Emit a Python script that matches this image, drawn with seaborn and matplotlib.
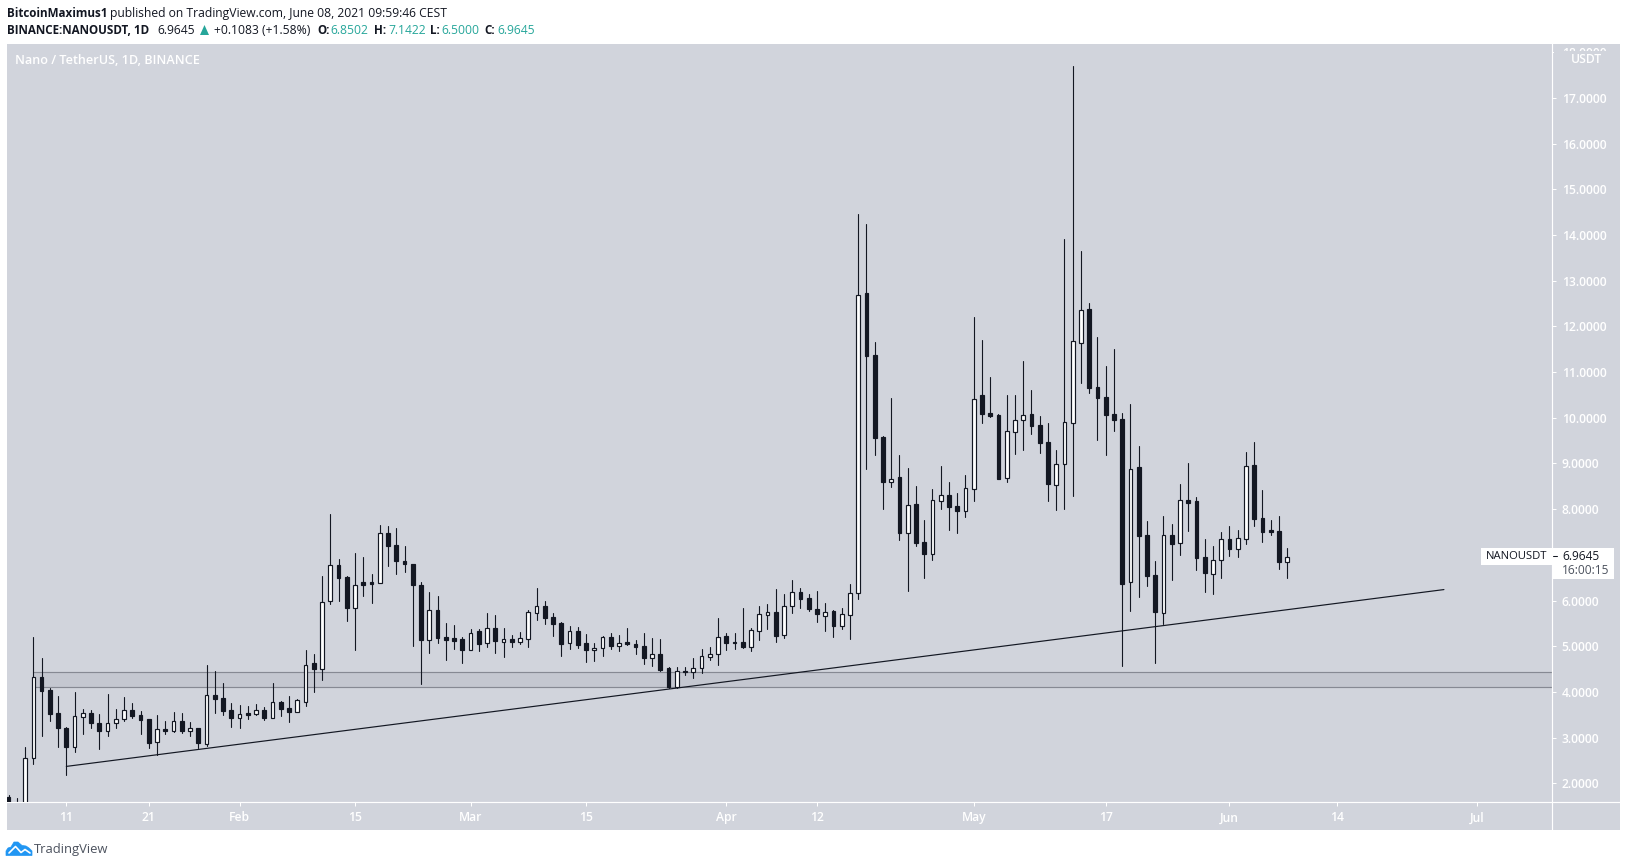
import numpy as np
import pandas as pd
import seaborn as sns
import matplotlib
matplotlib.use("Agg")
import matplotlib.pyplot as plt
import matplotlib.dates as mdates
from matplotlib.patches import Rectangle, Polygon
from matplotlib.lines import Line2D
from matplotlib.ticker import FixedLocator, FixedFormatter

# ---------- data ----------
first_day = "2021-01-04"
opens = [1.69,1.52,1.48,2.55,4.32,4.04,3.53,3.21,2.80,3.46,3.53,3.33,3.15,3.33,3.40,3.60,3.49,3.40,2.91,3.19,3.15,3.36,3.15,3.20,2.87,3.93,3.86,3.60,
 3.42,3.53,3.52,3.60,3.44,3.77,3.64,3.55,3.79,4.63,4.51,5.98,6.77,6.52,5.84,6.40,6.40,6.39,7.47,7.21,6.86,6.81,6.35,5.14,5.79,5.20,5.18,5.16,
 4.92,5.33,5.08,5.40,5.09,5.16,5.10,5.16,5.73,5.89,5.64,5.51,5.06,5.33,5.07,4.92,4.97,5.20,5.01,5.09,5.05,5.00,4.75,4.83,4.52,4.11,4.46,4.44,4.53,4.77,4.84,
 5.22,5.09,5.09,4.99,5.34,5.69,5.75,5.25,5.89,6.18,6.05,5.81,5.67,5.77,5.45,5.69,6.16,12.73,11.37,9.58,8.60,8.70,7.48,8.11,7.28,7.02,8.18,8.31,8.07,7.96,
 8.45,10.49,10.10,10.06,8.69,9.69,9.95,10.08,9.84,9.47,8.53,8.99,9.89,11.64,12.38,10.67,10.45,10.08,9.97,6.41,8.92,7.43,6.56,5.73,7.43,7.25,8.20,8.18,6.95,6.59,6.88,
 7.35,7.13,7.35,8.97,7.80,7.54,7.53,6.85]
highs = [1.74,1.67,2.80,5.21,4.74,4.08,3.91,3.23,4.00,3.63,3.60,3.52,3.95,3.63,3.89,3.76,3.58,3.41,3.50,3.36,3.55,3.54,3.34,3.20,4.59,4.46,4.20,3.75,
 3.71,3.69,3.74,3.68,4.20,3.80,3.91,3.85,4.92,4.83,6.54,7.89,6.91,6.54,7.03,6.95,6.58,7.65,7.63,7.59,7.19,6.81,6.40,6.19,6.10,5.50,5.46,5.20,
 5.37,5.37,5.72,5.68,5.40,5.24,5.31,5.79,6.27,5.99,5.73,5.53,5.44,5.42,5.27,5.07,5.22,5.29,5.24,5.40,5.13,5.29,5.18,5.16,4.54,4.54,4.54,4.74,4.94,4.98,5.62,
 5.29,5.29,5.84,5.40,5.88,5.92,6.25,6.14,6.45,6.27,6.14,6.21,5.94,5.79,5.84,6.37,14.46,14.24,11.65,9.60,10.43,9.18,8.90,8.50,7.76,8.44,8.94,8.59,8.35,8.75,
 12.20,11.70,10.89,10.08,10.49,10.49,11.24,10.60,10.04,9.88,9.29,13.91,17.69,13.65,12.51,11.77,11.13,11.50,10.10,10.31,9.39,7.74,6.86,7.84,7.67,8.55,9.01,8.26,7.34,7.19,7.50,
 7.63,7.54,9.25,9.47,8.42,7.76,7.85,7.14]
lows = [1.40,1.40,1.45,2.43,3.04,3.37,2.80,2.19,2.69,3.08,3.20,2.76,3.04,3.20,3.36,3.42,3.08,2.78,2.61,3.08,3.12,3.11,3.04,2.78,2.82,3.54,3.50,3.23,
 3.21,3.41,3.50,3.39,3.42,3.48,3.34,3.55,3.69,4.00,4.26,5.93,6.00,5.56,4.92,6.11,5.95,6.39,6.76,6.58,6.63,5.01,4.18,4.85,5.06,4.70,4.94,4.63,
 4.92,4.89,4.98,4.85,4.76,4.98,5.05,4.98,5.57,5.49,5.22,4.79,4.94,4.96,4.65,4.68,4.79,4.94,4.89,5.03,4.83,4.61,4.57,4.46,4.09,4.09,4.38,4.30,4.41,4.70,4.59,
 4.92,4.94,4.96,4.89,5.13,5.37,5.09,5.18,5.73,5.84,5.77,5.53,5.33,5.20,5.37,5.16,6.03,8.88,9.18,8.00,8.48,7.32,6.21,7.19,6.49,6.89,8.00,7.54,7.48,7.83,
 8.18,9.88,10.01,8.66,8.59,9.20,9.29,9.64,9.22,8.18,7.98,8.00,8.29,10.76,10.54,9.51,9.18,9.71,4.57,5.78,6.08,6.32,4.64,5.49,6.45,7.00,7.52,6.67,6.19,6.14,6.49,
 6.97,6.95,7.24,7.63,7.28,7.43,6.69,6.50]
closes = [1.50,1.48,2.55,4.32,4.03,3.52,3.20,2.80,3.47,3.53,3.31,3.15,3.33,3.40,3.60,3.47,3.39,2.89,3.18,3.15,3.36,3.15,3.20,2.89,3.93,3.85,3.59,3.42,
 3.51,3.50,3.60,3.43,3.77,3.63,3.57,3.82,4.60,4.51,5.96,6.77,6.50,5.84,6.35,6.34,6.37,7.47,7.20,6.87,6.81,6.35,5.14,5.79,5.19,5.14,5.11,4.92,
 5.30,5.05,5.39,5.11,5.15,5.09,5.17,5.74,5.89,5.62,5.49,5.05,5.33,5.03,4.92,4.97,5.20,5.00,5.08,5.05,4.98,4.74,4.84,4.48,4.11,4.45,4.44,4.52,4.78,4.84,5.21,
 5.07,5.07,4.98,5.35,5.70,5.74,5.22,5.89,6.18,6.03,5.81,5.70,5.74,5.44,5.70,6.16,12.68,11.36,9.55,8.59,8.67,7.48,8.10,7.26,7.02,8.19,8.32,8.05,7.96,8.47,
 10.42,10.08,10.04,8.66,9.70,9.96,10.07,9.82,9.44,8.55,8.98,9.90,11.67,12.35,10.65,10.43,10.06,9.95,6.36,8.87,7.41,6.54,5.75,7.43,7.24,8.19,8.13,6.93,6.60,6.88,7.34,
 7.13,7.36,8.94,7.78,7.50,7.50,6.84,6.96]

level_low, level_high = 4.10, 4.43
level_start = "2021-01-07"
trend_dates = ["2021-01-11", "2021-06-27"]
trend_values = [2.37, 6.24]

y_ticks = list(range(2, 19))
x_tick_dates = ["2021-01-11","2021-01-21","2021-02-01","2021-02-15","2021-03-01","2021-03-15",
                "2021-04-01","2021-04-12","2021-05-01","2021-05-17","2021-06-01","2021-06-14","2021-07-01"]
x_tick_labels = ["11","21","Feb","15","Mar","15","Apr","12","May","17","Jun","14","Jul"]
last_price = 6.9645

# ---------- colours ----------
PANEL = "#D1D4DC"; DARK = "#131722"; TEAL = "#26A69A"; GREY = "#868993"; BAND = "#C4C7D0"; BLUE = "#2196F3"

W, H = 1627, 867
sns.set_theme(style="white")
plt.rcParams["font.family"] = ["Open Sans", "DejaVu Sans"]
fig = plt.figure(figsize=(W / 100, H / 100), dpi=100, facecolor="white")

def fx(x): return x / W
def fy(y): return 1 - y / H
def put(x, y, s, **kw):
    kw.setdefault("va", "center"); kw.setdefault("ha", "left")
    return fig.text(fx(x), fy(y), s, **kw)

# panel
fig.add_artist(Rectangle((fx(7), fy(830)), (1620 - 7) / W, (830 - 44) / H, transform=fig.transFigure,
                         facecolor=PANEL, edgecolor="none", zorder=-5))
ax = fig.add_axes([fx(7), fy(802), (1552 - 7) / W, (802 - 44) / H])
ax.set_facecolor(PANEL)

n = len(opens)
assert n == len(highs) == len(lows) == len(closes) == 156
days = mdates.date2num(pd.date_range(first_day, periods=n, freq="D"))
frame = pd.DataFrame({"day": days, "open": opens, "high": highs, "low": lows, "close": closes})

# level zone and lines
lvl_x0 = mdates.date2num(pd.Timestamp(level_start))
x_min = mdates.date2num(pd.Timestamp("2021-01-11")) - 7.19
x_max = mdates.date2num(pd.Timestamp("2021-01-11")) + 180.1
ax.fill_between([lvl_x0, x_max], level_low, level_high, color=BAND, lw=0, zorder=1)
for lv in (level_low, level_high):
    sns.lineplot(x=[lvl_x0, x_max], y=[lv, lv], color=GREY, lw=0.85, ax=ax, zorder=1.5, legend=False, errorbar=None)

# wicks
wicks = frame.melt(id_vars="day", value_vars=["low", "high"], value_name="price")
sns.lineplot(data=wicks, x="day", y="price", units="day", estimator=None, color=DARK, lw=0.8,
             ax=ax, zorder=2, legend=False, sort=True)

# bodies
is_up = frame["close"] >= frame["open"]
bottoms = frame[["open", "close"]].min(axis=1)
spans = (frame["close"] - frame["open"]).abs()
ax.bar(frame["day"], spans, bottom=bottoms, width=0.44,
       color=np.where(is_up, "white", DARK), edgecolor=DARK, linewidth=0.85, zorder=3)

# trend line
sns.lineplot(x=mdates.date2num(pd.to_datetime(trend_dates)), y=trend_values, color=DARK, lw=0.85,
             ax=ax, zorder=4, legend=False, errorbar=None)

ax.set_xlim(x_min, x_max)
ax.set_ylim(1.591, 18.18)
ax.set_xlabel(""); ax.set_ylabel("")
ax.yaxis.tick_right()
ax.yaxis.set_major_locator(FixedLocator(y_ticks))
ax.yaxis.set_major_formatter(FixedFormatter([f"{v:.4f}" for v in y_ticks]))
ax.xaxis.set_major_locator(FixedLocator(mdates.date2num(pd.to_datetime(x_tick_dates))))
ax.xaxis.set_major_formatter(FixedFormatter(x_tick_labels))
ax.tick_params(axis="y", length=3, width=0.75, color="white", labelcolor="white", labelsize=8.7, pad=4.0, right=True, left=False)
ax.tick_params(axis="x", length=3, width=0.75, color="white", labelcolor="white", labelsize=8.7, pad=3.8, bottom=True)
for lab in ax.get_xticklabels() + ax.get_yticklabels():
    lab.set_fontweight(600)
for s in ("top", "left"):
    ax.spines[s].set_visible(False)
for s in ("right", "bottom"):
    ax.spines[s].set_color("white"); ax.spines[s].set_linewidth(0.85)

# axis lines running on through the panel
fig.add_artist(Line2D([fx(1552.3)] * 2, [fy(802), fy(830)], color="white", lw=0.85, transform=fig.transFigure))
fig.add_artist(Line2D([fx(1552), fx(1620)], [fy(802.3)] * 2, color="white", lw=0.85, transform=fig.transFigure))

# USDT label covering the top tick
fig.add_artist(Rectangle((fx(1553.5), fy(67)), 66 / W, 16.5 / H, transform=fig.transFigure,
                         facecolor=PANEL, edgecolor="none", zorder=3))
put(1586, 59.5, "USDT", color="white", fontsize=8.7, ha="center", zorder=4, fontweight=600)

# last price labels
y_last = fy(802) + (last_price - 1.591) / (18.18 - 1.591) * (802 - 44) / H
fig.add_artist(Rectangle((fx(1481), fy(565)), 71 / W, 17 / H, transform=fig.transFigure, facecolor="white", edgecolor="none", zorder=3))
fig.add_artist(Rectangle((fx(1553), fy(578.7)), 61 / W, 30.7 / H, transform=fig.transFigure, facecolor="white", edgecolor="none", zorder=3))
fig.add_artist(Line2D([fx(1553), fx(1557)], [y_last, y_last], color=DARK, lw=0.75, transform=fig.transFigure, zorder=4))
put(1516.5, 556.5, "NANOUSDT", color=DARK, fontsize=8.1, ha="center", zorder=4)
put(1562, 556.5, f"{last_price:.4f}", color=DARK, fontsize=8.6, zorder=4)
put(1562, 571, "16:00:15", color="#4C525E", fontsize=8.6, zorder=4)

# watermark title
put(14.5, 60, "Nano / TetherUS, 1D, BINANCE", color="white", fontsize=9.1, fontweight=600, zorder=4)

# header
HS = 8.7; HB = 8.4
put(6.5, 13.5, "BitcoinMaximus1", color=DARK, fontsize=HB, fontweight="bold")
put(110, 13.5, "published on TradingView.com, June 08, 2021 09:59:46 CEST", color=DARK, fontsize=HS)
put(6.5, 30.5, "BINANCE:NANOUSDT, 1D", color=DARK, fontsize=HB, fontweight="bold")
put(157.7, 30.5, "6.9645", color=DARK, fontsize=HS)
fig.add_artist(Polygon([(fx(200), fy(35)), (fx(209), fy(35)), (fx(204.5), fy(25))], closed=True,
                       transform=fig.transFigure, facecolor=TEAL, edgecolor="none"))
put(213.5, 30.5, "+0.1083 (+1.58%)", color=DARK, fontsize=HS)
for lx, lab, vx, val in [(317, "O:", 330, "6.8502"), (374, "H:", 388, "7.1422"),
                         (430.5, "L:", 441, "6.5000"), (484.5, "C:", 497, "6.9645")]:
    put(lx, 30.5, lab, color=DARK, fontsize=HB, fontweight="bold")
    put(vx, 30.5, val, color=TEAL, fontsize=HS)

# footer logo
cloud = [(6, 855.5), (6, 851), (8, 848), (11, 847), (14, 842), (18, 842), (22, 845.5), (26, 846),
         (29, 848), (32, 851), (32, 855.5)]
fig.add_artist(Polygon([(fx(a), fy(b)) for a, b in cloud], closed=True, transform=fig.transFigure,
                       facecolor=BLUE, edgecolor=BLUE, lw=0.5))
fig.add_artist(Line2D([fx(a) for a in (9, 15.5, 21, 25, 30)], [fy(b) for b in (853, 846.5, 852.5, 849.5, 853)],
                      color="white", lw=1.2, transform=fig.transFigure))
put(34, 849, "TradingView", color="#4C525E", fontsize=9.4)

fig.savefig("out.png", dpi=100, facecolor="white")
